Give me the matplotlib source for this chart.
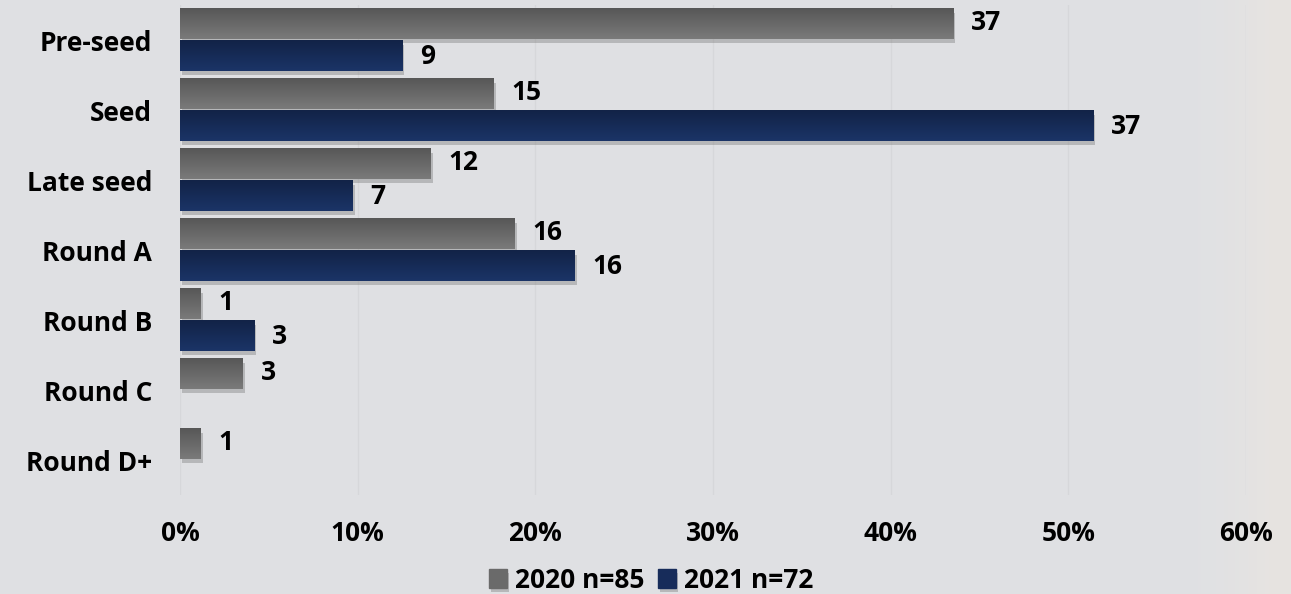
import matplotlib.pyplot as plt
import matplotlib.patheffects as pe
from matplotlib.colors import LinearSegmentedColormap
import numpy as np

plt.rcParams['font.family'] = ['Open Sans', 'DejaVu Sans']

# funding rounds, counts per year
categories = ["Pre-seed", "Seed", "Late seed", "Round A", "Round B", "Round C", "Round D+"]
counts_2020 = [37, 15, 12, 16, 1, 3, 1]
counts_2021 = [9, 37, 7, 16, 3, 0, 0]
n_2020 = 85
n_2021 = 72
xticks = [0, 10, 20, 30, 40, 50, 60]

pct_2020 = [c / n_2020 * 100 for c in counts_2020]
pct_2021 = [c / n_2021 * 100 for c in counts_2021]

fig = plt.figure(figsize=(12.91, 5.94), dpi=100)
fig.patch.set_facecolor('#dfe0e3')

# background: soft, warmer band at right edge
bg = fig.add_axes([0, 0, 1, 1], zorder=-5)
grad = np.linspace(0, 1, 600)
band = np.clip((grad - 0.925) / 0.06, 0, 1) ** 1.5
base = np.array([0.878, 0.882, 0.893])
right = np.array([0.905, 0.893, 0.882])
img = base[None, :] * (1 - band[:, None]) + right[None, :] * band[:, None]
bg.imshow(img[None, :, :], aspect='auto', extent=(0, 1, 0, 1))
bg.set_axis_off()

ax = fig.add_axes([180 / 1291, 1 - 495 / 594, (1246 - 180) / 1291, 490 / 594])
ax.set_facecolor('none')

y = np.arange(len(categories))
h = 0.43
shadow = [pe.SimplePatchShadow(offset=(1.5, -3), shadow_rgbFace='#7a7a7a', alpha=0.4), pe.Normal()]

b1 = ax.barh(y - h / 2 - 0.01, pct_2020, height=h, color='#666666', label=f'2020 n={n_2020}', zorder=3)
b2 = ax.barh(y + h / 2 + 0.01, pct_2021, height=h, color='#172c5a', label=f'2021 n={n_2021}', zorder=3)

gray_cm = LinearSegmentedColormap.from_list('g', ['#575757', '#7a7a7a'])
navy_cm = LinearSegmentedColormap.from_list('n', ['#122347', '#1b3467'])
for bars, cm in ((b1, gray_cm), (b2, navy_cm)):
    for b in bars:
        if b.get_width() > 0:
            b.set_path_effects(shadow)
            x0, y0 = b.get_x(), b.get_y()
            ax.imshow(np.linspace(0, 1, 50)[:, None] * np.ones((1, 2)), cmap=cm, aspect='auto',
                      extent=(x0, x0 + b.get_width(), y0 + b.get_height(), y0),
                      origin='upper', zorder=4)

for yy, p, c in zip(y, pct_2020, counts_2020):
    ax.text(p + 1.0, yy - h / 2 - 0.04, str(c), va='center', ha='left',
            fontsize=19, fontweight='bold', color='black', zorder=5)
for yy, p, c in zip(y, pct_2021, counts_2021):
    if c > 0:
        ax.text(p + 1.0, yy + h / 2 + 0.02, str(c), va='center', ha='left',
                fontsize=19, fontweight='bold', color='black', zorder=5)

ax.set_xlim(0, 60)
ax.set_ylim(len(categories) - 0.5, -0.5)
ax.set_yticks(y)
ax.set_yticklabels(categories, fontsize=19, fontweight='bold')
ax.set_xticks(xticks)
ax.set_xticklabels([f'{t}%' for t in xticks], fontsize=19, fontweight='bold')
ax.tick_params(length=0)
ax.tick_params(axis='y', pad=20)
ax.tick_params(axis='x', pad=18)
ax.xaxis.grid(True, color='#d6d7da', linewidth=1, zorder=0)
ax.set_axisbelow(True)
for s in ax.spines.values():
    s.set_visible(False)

ax.legend(loc='center', bbox_to_anchor=(651 / 1291, 1 - 580 / 594), ncol=2, frameon=False,
          prop={'size': 19, 'weight': 'bold'}, handlelength=0.7, handleheight=0.7,
          handletextpad=0.3, columnspacing=0.5, bbox_transform=fig.transFigure)
leg = ax.get_legend()
leg.legend_handles[0].set_color('#6a6a6a')
leg.legend_handles[1].set_color('#172c5a')

fig.savefig('out.png', dpi=100, facecolor=fig.get_facecolor())
